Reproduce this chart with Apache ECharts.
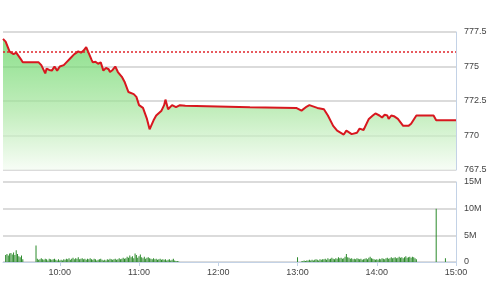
<!DOCTYPE html>
<html><head><meta charset="utf-8">
<script src="https://cdn.jsdelivr.net/npm/echarts@6/dist/echarts.min.js"></script>
<style>html,body{margin:0;padding:0;background:#fff}#c{width:490px;height:306px}</style>
</head><body><div id="c"></div>
<script>
// Price line (time, index value)
var priceTimes = ["9:17","9:19","9:22","9:25","9:27","9:31","9:32","9:44","9:46","9:49","9:50","9:52","9:54","9:56","9:58","10:00","10:03","10:05","10:08","10:11","10:14","10:16","10:18","10:20","10:22","10:24","10:25","10:27","10:29","10:31","10:33","10:35","10:37","10:38","10:40","10:42","10:44","10:47","10:49","10:52","10:56","10:58","11:00","11:03","11:06","11:08","11:11","11:13","11:17","11:19","11:20","11:22","11:25","11:28","11:31","11:35","12:24","12:59","13:03","13:07","13:09","13:15","13:20","13:23","13:27","13:30","13:35","13:37","13:41","13:45","13:47","13:50","13:54","13:57","13:59","14:02","14:04","14:06","14:08","14:09","14:11","14:13","14:16","14:20","14:24","14:26","14:30","14:43","14:45","15:00"];
var priceValues = [777.0,776.8,776.07,775.9,776.0,775.46,775.3,775.3,775.1,774.5,774.85,774.75,774.7,775.0,774.7,775.0,775.1,775.3,775.6,775.9,776.1,776.0,776.15,776.4,775.95,775.5,775.3,775.35,775.2,775.3,774.7,774.9,774.8,774.6,774.75,775.0,774.6,774.25,773.9,773.15,773.0,772.8,772.2,772.0,771.2,770.45,771.1,771.45,771.8,772.2,772.6,771.9,772.2,772.05,772.2,772.15,772.05,772.0,771.8,772.1,772.2,772.0,771.9,771.45,770.7,770.35,770.07,770.35,770.1,770.2,770.5,770.4,771.2,771.45,771.6,771.45,771.3,771.5,771.45,771.2,771.45,771.4,771.2,770.7,770.7,770.85,771.45,771.45,771.1,771.1];
var refPrice = 776.1;

// Volume (millions), per-minute blocks
var volMorningStart = "9:19";
var volMorning = [1.3,1.5,1.2,1.6,1.7,1.4,1.8,1.3,2.2,1.5,1.1,0.9,1.2,0.5,
  0,0,0,0,0,0,0,0,0,
  3.1,
  0.6,0.4,0.5,0.7,0.5,0.4,0.6,0.5,0.3,0.6,0.5,0.4,0.5,0.6,0.4,0.3,0.5,
  0.3,0.4,0.3,0.5,0.4,0.6,0.5,0.7,0.4,0.6,0.8,0.5,0.7,0.6,0.9,0.5,0.6,0.7,0.5,0.6,
  0.4,0.6,0.5,0.7,0.5,0.4,0.6,0.5,0.3,0.4,0.5,0.6,0.4,0.3,0.4,0.3,0.5,0.4,0.6,0.5,
  0.4,0.5,0.6,0.4,0.5,0.7,0.5,0.6,0.8,0.6,0.7,1.0,0.8,1.2,0.9,1.1,0.7,1.6,1.3,0.8,
  1.1,1.4,0.9,0.7,1.0,0.6,0.8,0.9,0.7,0.6,0.5,0.7,0.5,0.6,0.4,0.5,0.6,0.4,0.5,0.4,
  0.5,0.3,0.4,0.5,0.3,0.4,0.6,0.3,0.2,0.2,0.1];
var volAfternoonStart = "13:00";
var volAfternoon = [0.9,0,0,0.1,
  0.2,0.3,0.2,0.3,0.3,0.4,0.3,0.4,0.3,0.4,0.5,0.4,0.3,0.5,0.4,0.5,
  0.5,0.6,0.4,0.7,0.5,0.6,0.8,0.6,0.5,0.7,0.6,0.9,0.7,0.8,0.6,0.7,1.0,1.5,0.9,0.8,
  0.6,0.7,0.5,0.6,0.5,0.7,0.6,0.5,0.6,0.4,0.5,0.6,0.7,0.5,0.8,1.0,0.7,0.6,0.5,0.4,
  0.5,0.4,0.6,0.5,0.7,0.6,0.5,0.7,0.8,0.6,0.7,0.9,0.7,0.8,0.9,0.7,0.8,1.0,0.8,0.9,
  0.7,0.9,1.1,0.8,0.9,1.0,0.8,1.0,0.9,0.7,0.5];
var volExtraTimes = ["14:45","14:52"];
var volExtraValues = [10.0,0.7];

var xTicks = ["10:00","11:00","12:00","13:00","14:00","15:00"];

function toMin(s){var p=s.split(':');return +p[0]*60+ +p[1];}
function fmt(m){var h=Math.floor(m/60),mm=Math.round(m%60);return h+':'+(mm<10?'0':'')+mm;}

var priceData = priceTimes.map(function(t,i){return [toMin(t), priceValues[i]];});
var volData = [];
var s1 = toMin(volMorningStart);
volMorning.forEach(function(v,i){ if(v>0) volData.push([s1+i, v*1e6]); });
var s2 = toMin(volAfternoonStart);
volAfternoon.forEach(function(v,i){ if(v>0) volData.push([s2+i, v*1e6]); });
volExtraTimes.forEach(function(t,i){ volData.push([toMin(t), volExtraValues[i]*1e6]); });

var XMIN = 557, XMAX = 900;
var tickMins = xTicks.map(toMin);
var gridColor = '#cfcfcf', borderColor = '#c3d2e6', txt = '#444';
var font = 'Liberation Sans, Arial, sans-serif';

var chart = echarts.init(document.getElementById('c'), null, {renderer:'canvas'});
chart.setOption({
  animation:false,
  backgroundColor:'#fff',
  grid:[
    {left:3, right:34, top:32, height:138},
    {left:3, right:34, top:182, height:80}
  ],
  xAxis:[
    {gridIndex:0, type:'value', min:XMIN, max:XMAX, show:true,
     axisLine:{show:false}, axisTick:{show:false}, axisLabel:{show:false}, splitLine:{show:false}},
    {gridIndex:1, type:'value', min:XMIN, max:XMAX,
     axisLine:{show:true, lineStyle:{color:borderColor, width:1}},
     axisTick:{show:true, customValues:tickMins, length:4, lineStyle:{color:borderColor}},
     axisLabel:{show:true, customValues:tickMins, formatter:function(v){return fmt(v);}, color:txt, fontSize:9, fontFamily:font, margin:6},
     splitLine:{show:false}}
  ],
  yAxis:[
    {gridIndex:0, type:'value', position:'right', min:767.5, max:777.5, interval:2.5,
     axisLine:{show:true, lineStyle:{color:borderColor, width:1}}, axisTick:{show:false},
     axisLabel:{color:txt, fontSize:9, fontFamily:font, margin:8, formatter:function(v){return String(v);}},
     splitLine:{show:true, lineStyle:{color:gridColor, width:1.5}}},
    {gridIndex:1, type:'value', position:'right', min:0, max:15e6, interval:5e6,
     axisLine:{show:true, lineStyle:{color:borderColor, width:1}}, axisTick:{show:false},
     axisLabel:{color:txt, fontSize:9, fontFamily:font, margin:8, formatter:function(v){return v===0?'0':(v/1e6)+'M';}},
     splitLine:{show:true, lineStyle:{color:gridColor, width:1.5}}}
  ],
  series:[
    {type:'line', xAxisIndex:0, yAxisIndex:0, data:priceData, symbol:'none', silent:true,
     lineStyle:{color:'#d8171f', width:2},
     areaStyle:{origin:'start', color:new echarts.graphic.LinearGradient(0,0,0,1,[
       {offset:0, color:'#5ad25a'},{offset:0.55, color:'#a8e6a0'},{offset:1, color:'#f4fcf2'}])},
     markLine:{silent:true, symbol:'none', label:{show:false},
       lineStyle:{color:'#e0242a', type:[2,2], width:1.5},
       data:[{yAxis:refPrice}]}},
    {type:'bar', xAxisIndex:1, yAxisIndex:1, data:volData, barWidth:1, silent:true,
     itemStyle:{color:'#2a8a2a'}}
  ]
});
</script></body></html>
